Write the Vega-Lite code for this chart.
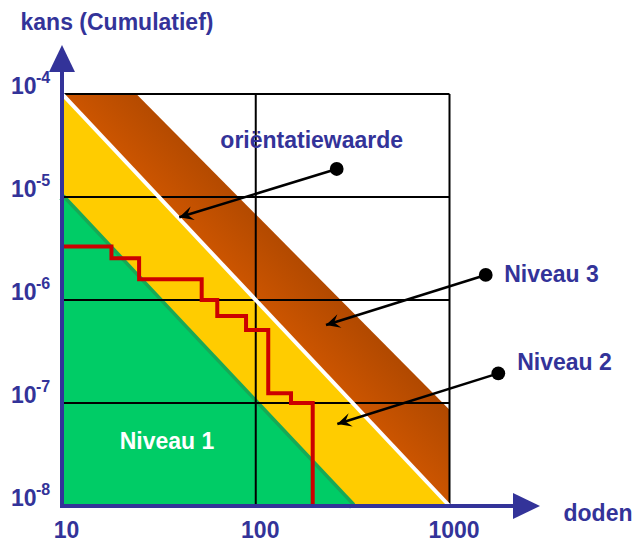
{
  "$schema": "https://vega.github.io/schema/vega-lite/v6.json",
  "width": 575,
  "height": 542,
  "autosize": {"type": "none"},
  "padding": {"left": 62, "top": 0, "right": 0, "bottom": 0},
  "background": "white",
  "config": {"view": {"stroke": null}, "font": "Liberation Sans"},
  "datasets": {
    "yellow": [{"x": 10, "y": 1e-4, "y2": 1e-8}, {"x": 1000, "y": 1e-8, "y2": 1e-8}],
    "green": [{"x": 10, "y": 1e-5, "y2": 1e-8}, {"x": 316.2, "y": 1e-8, "y2": 1e-8}],
    "brown": [{"x": 10, "y": 1e-4, "y2": 1e-4}, {"x": 24.2, "y": 1e-4, "y2": 1.707e-5}, {"x": 1000, "y": 8.6e-8, "y2": 1e-8}],
    "grid": [
      {"x": 10, "y": 1e-4, "x2": 1000, "y2": 1e-4},
      {"x": 10, "y": 1e-5, "x2": 1000, "y2": 1e-5},
      {"x": 10, "y": 1e-6, "x2": 1000, "y2": 1e-6},
      {"x": 10, "y": 1e-7, "x2": 1000, "y2": 1e-7},
      {"x": 100, "y": 1e-8, "x2": 100, "y2": 1e-4},
      {"x": 1000, "y": 1e-8, "x2": 1000, "y2": 1e-4}
    ],
    "white": [{"x": 10, "y": 1e-4}, {"x": 1000, "y": 1e-8}],
    "steps": [
      {"x": 10, "y": 3.3e-6},
      {"x": 18, "y": 2.54e-6},
      {"x": 25, "y": 1.59e-6},
      {"x": 52.6, "y": 1.0e-6},
      {"x": 63.3, "y": 7.0e-7},
      {"x": 89.1, "y": 5.1e-7},
      {"x": 116, "y": 1.24e-7},
      {"x": 152, "y": 1.0e-7},
      {"x": 196.8, "y": 1e-8}
    ],
    "axes": [
      {"x": 10, "y": 1e-8, "x2": 10, "y2": 1.6355e-4},
      {"x": 10, "y": 1e-8, "x2": 2127, "y2": 1e-8}
    ],
    "axisArrows": [
      {"axis": "y", "x": 10, "y": 1.6355e-4},
      {"axis": "x", "x": 2127, "y": 1e-8}
    ],
    "arrows": [
      {"x": 261.7, "y": 1.87e-5, "x2": 40.3, "y2": 6.35e-6},
      {"x": 1538, "y": 1.75e-6, "x2": 230.5, "y2": 5.71e-7},
      {"x": 1786, "y": 1.94e-7, "x2": 263.6, "y2": 6.25e-8}
    ],
    "dots": [
      {"x": 261.7, "y": 1.87e-5},
      {"x": 1538, "y": 1.75e-6},
      {"x": 1786, "y": 1.94e-7}
    ],
    "tips": [
      {"x": 40.3, "y": 6.35e-6},
      {"x": 230.5, "y": 5.71e-7},
      {"x": 263.6, "y": 6.25e-8}
    ],
    "labels": [
      {"x": 194.5, "y": 3.5e-5, "label": "oriëntatiewaarde"},
      {"x": 3362, "y": 1.75e-6, "label": "Niveau 3"},
      {"x": 3923, "y": 2.445e-7, "label": "Niveau 2"},
      {"x": 34.8, "y": 4.21e-8, "label": "Niveau 1"}
    ],
    "yticks": [
      {"x": 10, "y": 1e-4, "exp": "-4"},
      {"x": 10, "y": 1e-5, "exp": "-5"},
      {"x": 10, "y": 1e-6, "exp": "-6"},
      {"x": 10, "y": 1e-7, "exp": "-7"},
      {"x": 10, "y": 1e-8, "exp": "-8"}
    ]
  },
  "encoding": {
    "x": {
      "field": "x", "type": "quantitative",
      "scale": {"type": "log", "domain": [10, 9284], "nice": false, "zero": false},
      "axis": {
        "values": [10, 100, 1000], "format": "d", "title": "doden",
        "grid": false, "domain": false, "ticks": false, "tickSize": 0, "offset": -36,
        "labelPadding": 31, "labelBaseline": "alphabetic", "labelFont": "Liberation Sans",
        "labelFontWeight": "bold", "labelFontSize": 23, "labelColor": "#333399",
        "labelFlush": false, "labelOverlap": false, "labelOffset": 4,
        "titleFont": "Liberation Sans", "titleFontWeight": "bold", "titleFontSize": 23,
        "titleColor": "#333399", "titleX": 501, "titleY": 14, "titleAlign": "left",
        "titleBaseline": "alphabetic", "titleAngle": 0
      }
    },
    "y": {
      "field": "y", "type": "quantitative",
      "scale": {"type": "log", "domain": [4.4717e-9, 8.1758e-4], "nice": false, "zero": false},
      "axis": {
        "values": [1e-8, 1e-7, 1e-6, 1e-5, 1e-4], "labelExpr": "'10'", "title": "kans (Cumulatief)",
        "grid": false, "domain": false, "ticks": false, "tickSize": 0,
        "labelPadding": 26, "labelBaseline": "alphabetic", "labelFont": "Liberation Sans",
        "labelFontWeight": "bold", "labelFontSize": 23, "labelColor": "#333399",
        "labelFlush": false, "labelOverlap": false,
        "titleFont": "Liberation Sans", "titleFontWeight": "bold", "titleFontSize": 23,
        "titleColor": "#333399", "titleAngle": 0, "titleX": -42, "titleY": 29,
        "titleAlign": "left", "titleBaseline": "alphabetic"
      }
    }
  },
  "layer": [
    {"data": {"name": "yellow"}, "mark": {"type": "area", "color": "#ffcc00"}, "encoding": {"y2": {"field": "y2"}}},
    {"data": {"name": "green"}, "mark": {"type": "line", "color": "#17a956", "strokeWidth": 7}, "encoding": {}},
    {"data": {"name": "green"}, "mark": {"type": "area", "color": "#00cc66"}, "encoding": {"y2": {"field": "y2"}}},
    {"data": {"name": "brown"}, "mark": {"type": "area", "fill": {"gradient": "linear", "x1": 0, "y1": 1, "x2": 1, "y2": 0, "stops": [{"offset": 0, "color": "#d45a00"}, {"offset": 0.5, "color": "#cc5500"}, {"offset": 0.63, "color": "#ad4700"}, {"offset": 1, "color": "#ad4700"}]}}, "encoding": {"y2": {"field": "y2"}}},
    {"data": {"name": "grid"}, "mark": {"type": "rule", "color": "black", "strokeWidth": 2}, "encoding": {"x2": {"field": "x2"}, "y2": {"field": "y2"}}},
    {"data": {"name": "white"}, "mark": {"type": "line", "color": "white", "strokeWidth": 4}, "encoding": {}},
    {"data": {"name": "steps"}, "mark": {"type": "line", "color": "#cc0000", "strokeWidth": 4, "interpolate": "step-after"}, "encoding": {}},
    {"data": {"name": "axes"}, "mark": {"type": "rule", "color": "#333399", "strokeWidth": 4, "strokeCap": "square"}, "encoding": {"x2": {"field": "x2"}, "y2": {"field": "y2"}}},
    {"data": {"name": "axisArrows"}, "transform": [{"filter": "datum.axis === 'y'"}], "mark": {"type": "point", "shape": "M0,-1L0.48,0L-0.48,0Z", "filled": true, "size": 2916, "color": "#333399", "opacity": 1, "strokeWidth": 0}, "encoding": {}},
    {"data": {"name": "axisArrows"}, "transform": [{"filter": "datum.axis === 'x'"}], "mark": {"type": "point", "shape": "M1,0L0,-0.48L0,0.48Z", "filled": true, "size": 2916, "color": "#333399", "opacity": 1, "strokeWidth": 0}, "encoding": {}},
    {"data": {"name": "arrows"}, "mark": {"type": "rule", "color": "black", "strokeWidth": 2.5}, "encoding": {"x2": {"field": "x2"}, "y2": {"field": "y2"}}},
    {"data": {"name": "dots"}, "mark": {"type": "circle", "size": 190, "color": "black", "opacity": 1}, "encoding": {}},
    {"data": {"name": "tips"}, "mark": {"type": "point", "shape": "M0,0L-1,-0.5L-0.6,0L-1,0.5Z", "filled": true, "size": 784, "angle": 163, "color": "black", "opacity": 1, "strokeWidth": 0}, "encoding": {}},
    {"data": {"name": "labels"}, "mark": {"type": "text", "font": "Liberation Sans", "fontWeight": "bold", "fontSize": 23, "align": "center", "baseline": "middle"}, "encoding": {"text": {"field": "label"}, "color": {"condition": {"test": "datum.label === 'Niveau 1'", "value": "white"}, "value": "#333399"}}},
    {"data": {"name": "yticks"}, "mark": {"type": "text", "font": "Liberation Sans", "fontWeight": "bold", "fontSize": 16, "align": "left", "baseline": "alphabetic", "dx": -26, "dy": -11, "color": "#333399"}, "encoding": {"text": {"field": "exp"}}}
  ]
}
